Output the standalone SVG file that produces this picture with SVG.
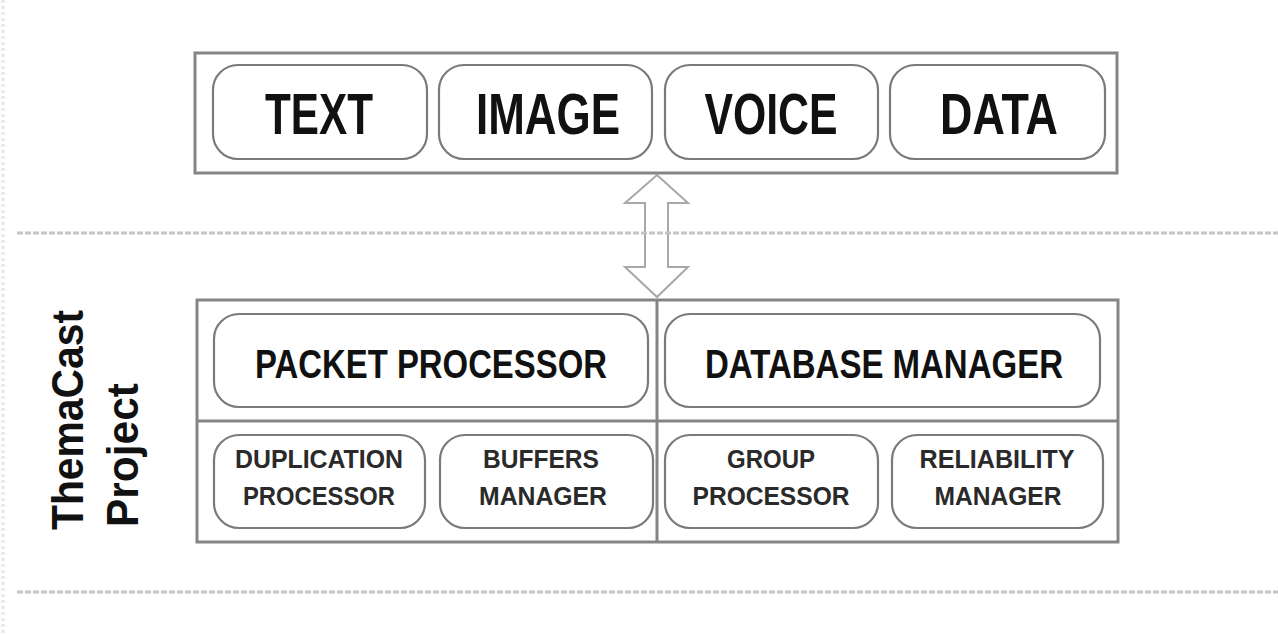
<svg xmlns="http://www.w3.org/2000/svg" width="1278" height="635" viewBox="0 0 1278 635">
  <style>
    .frame { fill: #ffffff; stroke: #858585; stroke-width: 3; }
    .split { stroke: #858585; stroke-width: 3; fill: none; }
    .pill { fill: #ffffff; stroke: #7a7a7a; stroke-width: 2.2; }
    .lbl { font-family: "Liberation Sans", Arial, sans-serif; font-weight: bold; fill: #111111; text-anchor: middle; }
    .big { font-size: 58px; }
    .mid { font-size: 41px; }
    .small { font-size: 25px; fill: #2a2a2a; }
    .side { font-family: "Liberation Sans", Arial, sans-serif; font-weight: bold; font-size: 44px; fill: #111111; }
    .rule { stroke: #c4c4c4; stroke-width: 3; stroke-dasharray: 6 2; fill: none; }
    .arrow { fill: none; stroke: #a8a8a8; stroke-width: 2; stroke-linejoin: miter; }
  </style>

  <rect width="1278" height="635" fill="#ffffff"/>
  <!-- faint dotted margin at the left edge -->
  <line x1="3" y1="0" x2="3" y2="635" stroke="#ececec" stroke-width="4" stroke-dasharray="3 3"/>

  <!-- connectors -->
  <g id="connectors">
    <path class="arrow" d="M657,175 L688,203 L668,203 L668,267 L688,267 L657,297 L625,267 L645,267 L645,203 L625,203 Z"/>
  </g>

  <!-- layer separators -->
  <g id="separators">
    <line class="rule" x1="17" y1="233" x2="1278" y2="233"/>
    <line class="rule" x1="17" y1="592" x2="1278" y2="592"/>
  </g>

  <!-- application layer -->
  <g id="media-layer">
    <rect class="frame" x="195" y="53" width="922" height="120"/>
    <g id="node-text">
      <rect class="pill" x="213" y="65" width="214" height="94" rx="25"/>
      <text class="lbl big" x="319" y="134" textLength="108" lengthAdjust="spacingAndGlyphs">TEXT</text>
    </g>
    <g id="node-image">
      <rect class="pill" x="439" y="65" width="213" height="94" rx="25"/>
      <text class="lbl big" x="548" y="134" textLength="144" lengthAdjust="spacingAndGlyphs">IMAGE</text>
    </g>
    <g id="node-voice">
      <rect class="pill" x="665" y="65" width="213" height="94" rx="25"/>
      <text class="lbl big" x="771" y="134" textLength="133" lengthAdjust="spacingAndGlyphs">VOICE</text>
    </g>
    <g id="node-data">
      <rect class="pill" x="890" y="65" width="215" height="94" rx="25"/>
      <text class="lbl big" x="999" y="134" textLength="118" lengthAdjust="spacingAndGlyphs">DATA</text>
    </g>
  </g>

  <!-- ThemaCast layer -->
  <g id="themacast-layer">
    <rect class="frame" x="197" y="300" width="921" height="242"/>
    <line class="split" x1="197" y1="421" x2="1118" y2="421"/>
    <line class="split" x1="657" y1="300" x2="657" y2="542"/>

    <g id="node-packet-processor">
      <rect class="pill" x="214" y="314" width="434" height="93" rx="25"/>
      <text class="lbl mid" x="431" y="378" textLength="352" lengthAdjust="spacingAndGlyphs">PACKET PROCESSOR</text>
    </g>
    <g id="node-database-manager">
      <rect class="pill" x="665" y="314" width="435" height="93" rx="25"/>
      <text class="lbl mid" x="884" y="378" textLength="358" lengthAdjust="spacingAndGlyphs">DATABASE MANAGER</text>
    </g>

    <g id="node-duplication-processor">
      <rect class="pill" x="214" y="435" width="211" height="93" rx="25"/>
      <text class="lbl small" x="319" y="468" textLength="168" lengthAdjust="spacingAndGlyphs">DUPLICATION</text>
      <text class="lbl small" x="319" y="505" textLength="152" lengthAdjust="spacingAndGlyphs">PROCESSOR</text>
    </g>
    <g id="node-buffers-manager">
      <rect class="pill" x="440" y="435" width="213" height="93" rx="25"/>
      <text class="lbl small" x="541" y="468" textLength="116" lengthAdjust="spacingAndGlyphs">BUFFERS</text>
      <text class="lbl small" x="543" y="505" textLength="128" lengthAdjust="spacingAndGlyphs">MANAGER</text>
    </g>
    <g id="node-group-processor">
      <rect class="pill" x="665" y="435" width="213" height="93" rx="25"/>
      <text class="lbl small" x="771" y="468" textLength="88" lengthAdjust="spacingAndGlyphs">GROUP</text>
      <text class="lbl small" x="771" y="505" textLength="157" lengthAdjust="spacingAndGlyphs">PROCESSOR</text>
    </g>
    <g id="node-reliability-manager">
      <rect class="pill" x="892" y="435" width="211" height="93" rx="25"/>
      <text class="lbl small" x="997" y="468" textLength="155" lengthAdjust="spacingAndGlyphs">RELIABILITY</text>
      <text class="lbl small" x="998" y="505" textLength="127" lengthAdjust="spacingAndGlyphs">MANAGER</text>
    </g>
  </g>

  <!-- vertical project label -->
  <g id="project-label">
    <text class="side" transform="translate(83,530) rotate(-90)" textLength="220" lengthAdjust="spacingAndGlyphs">ThemaCast</text>
    <text class="side" transform="translate(138,527) rotate(-90)" textLength="144" lengthAdjust="spacingAndGlyphs">Project</text>
  </g>
</svg>
